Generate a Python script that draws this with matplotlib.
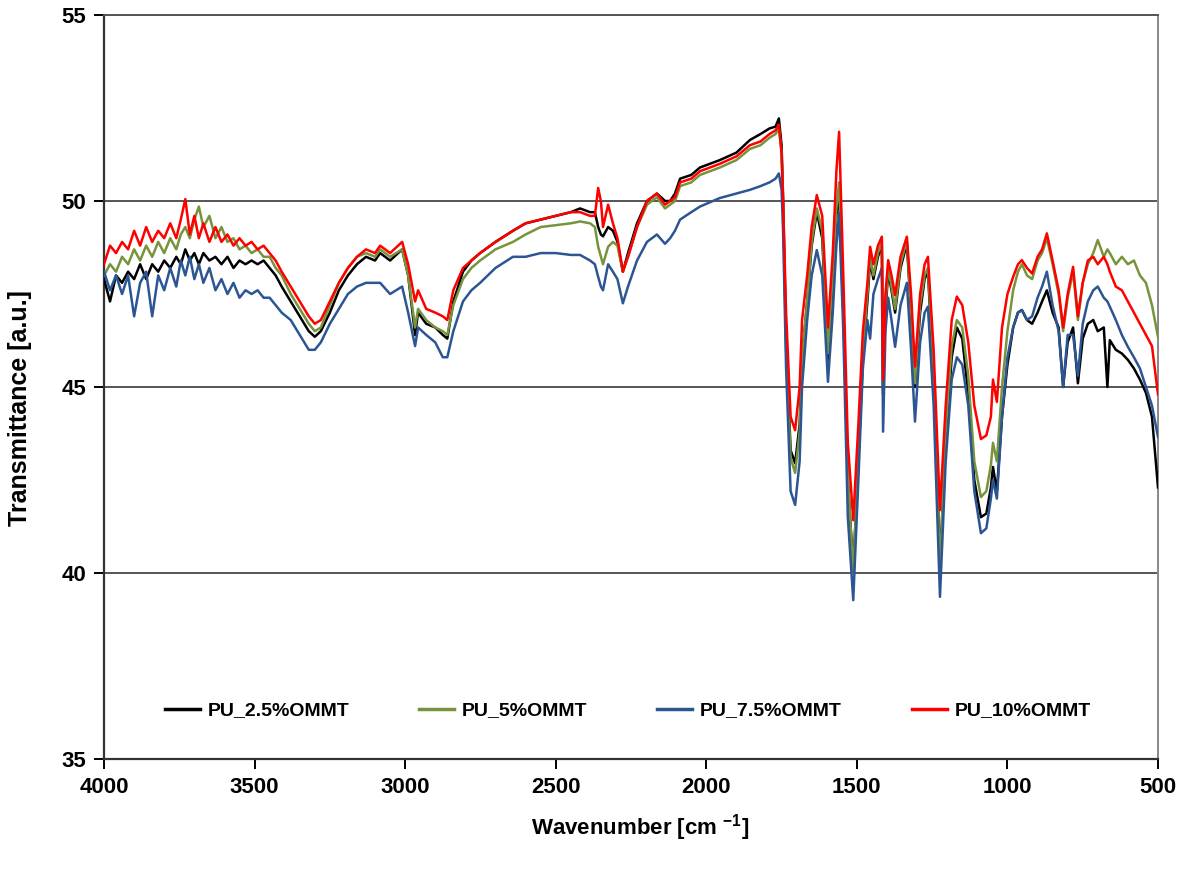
import matplotlib
matplotlib.use("Agg")
import matplotlib.pyplot as plt

plt.rcParams['font.family'] = ['Liberation Sans', 'DejaVu Sans']
plt.rcParams['font.weight'] = 'bold'
plt.rcParams['mathtext.fontset'] = 'custom'
plt.rcParams['mathtext.bf'] = 'Liberation Sans:bold'
plt.rcParams['mathtext.rm'] = 'Liberation Sans:bold'
plt.rcParams['mathtext.default'] = 'bf'

# ---------------- data ----------------
wavenumber = [
    4000, 3980, 3960, 3940, 3920, 3900, 3880, 3860, 3840, 3820, 3800, 3780, 3760, 3745, 3730, 3715,
    3700, 3685, 3670, 3650, 3630, 3610, 3590, 3570, 3550, 3530, 3510, 3490, 3470, 3450, 3430, 3410,
    3380, 3350, 3320, 3300, 3280, 3250, 3220, 3190, 3160, 3130, 3100,
    3083, 3050, 3010, 2990, 2967, 2957, 2930, 2900, 2875, 2860, 2840, 2808, 2780, 2751, 2700, 2642,
    2600, 2550, 2500, 2450, 2419, 2386,
    2370, 2359, 2350, 2343, 2326, 2310, 2295, 2277, 2260, 2230, 2197, 2164, 2137, 2120, 2104, 2087,
    2050, 2021,
    1955, 1900, 1855, 1820, 1790, 1770, 1759, 1750, 1745,
    1735, 1720, 1705, 1690, 1682, 1665, 1650, 1633, 1615, 1596,
    1580, 1568, 1559, 1545, 1530, 1512, 1495, 1480, 1465, 1456,
    1445, 1430, 1417, 1413, 1405, 1396, 1385, 1373, 1355, 1334,
    1320, 1307, 1290, 1275, 1264, 1245, 1224, 1205, 1185, 1168,
    1150, 1130, 1110, 1088, 1070, 1055, 1048, 1035, 1018, 1000,
    981, 965, 952, 935, 918, 900, 885, 869, 850, 830,
    815, 800, 782, 766, 750, 733, 715, 700, 680, 668,
    660, 640, 620, 600, 580, 560, 540, 520, 500,
]

pu_2_5 = [
    47.9, 47.3, 48.0, 47.8, 48.1, 47.9, 48.3, 47.9, 48.3, 48.1, 48.4, 48.2, 48.5, 48.3, 48.7, 48.4,
    48.6, 48.3, 48.6, 48.4, 48.5, 48.3, 48.5, 48.2, 48.4, 48.3, 48.4, 48.3, 48.4, 48.2, 48.0, 47.7,
    47.3, 46.9, 46.5, 46.35, 46.5, 47.0, 47.6, 48.0, 48.3, 48.5, 48.4,
    48.6, 48.4, 48.7, 48.0, 46.4, 47.0, 46.7, 46.6, 46.4, 46.3, 47.3, 48.1, 48.4, 48.6, 48.9, 49.2,
    49.4, 49.5, 49.6, 49.7, 49.8, 49.7,
    49.7, 49.3, 49.1, 49.05, 49.3, 49.2, 48.9, 48.1, 48.6, 49.4, 50.0, 50.2, 50.0, 50.0, 50.2, 50.6,
    50.7, 50.9,
    51.1, 51.3, 51.64, 51.8, 51.95, 52.0, 52.22, 51.5, 50.1,
    46.3, 43.3, 42.95, 44.0, 45.8, 47.3, 48.8, 49.7, 49.0, 45.7,
    47.8, 49.6, 50.2, 47.0, 42.5, 40.1, 43.0, 45.8, 47.3, 48.4,
    47.9, 48.5, 48.8, 44.8, 47.0, 48.1, 47.6, 47.0, 48.2, 48.85,
    47.0, 45.0, 47.0, 47.9, 48.1, 45.2, 40.3, 43.5, 45.8, 46.6,
    46.3, 44.8, 42.5, 41.5, 41.6, 42.3, 42.85, 42.2, 44.2, 45.6,
    46.6, 47.0, 47.07, 46.8, 46.7, 47.0, 47.3, 47.6, 47.0, 46.6,
    45.0, 46.2, 46.6, 45.1, 46.3, 46.7, 46.8, 46.5, 46.6, 45.0,
    46.26, 46.0, 45.9, 45.73, 45.5, 45.2, 44.84, 44.2, 42.3,
]

pu_5 = [
    48.0, 48.3, 48.1, 48.5, 48.3, 48.7, 48.4, 48.8, 48.5, 48.9, 48.6, 49.0, 48.7, 49.1, 49.3, 49.0,
    49.5, 49.85, 49.3, 49.6, 49.0, 49.3, 48.9, 49.0, 48.7, 48.8, 48.6, 48.7, 48.5, 48.5, 48.2, 48.0,
    47.5, 47.1, 46.7, 46.5, 46.6, 47.2, 47.8, 48.2, 48.5, 48.6, 48.5,
    48.7, 48.5, 48.7, 48.0, 46.6, 47.1, 46.8, 46.6, 46.5, 46.4, 47.2, 47.9, 48.2, 48.4, 48.7, 48.9,
    49.1, 49.3, 49.35, 49.4, 49.45, 49.4,
    49.3, 48.77, 48.5, 48.3, 48.77, 48.9, 48.8, 48.1, 48.5, 49.3, 49.9, 50.1, 49.8, 49.9, 50.0, 50.4,
    50.5, 50.7,
    50.9, 51.1, 51.4, 51.5, 51.7, 51.8, 51.95, 51.3, 49.9,
    46.0, 43.1, 42.69, 43.8, 45.8, 47.3, 48.9, 49.8, 49.2, 45.9,
    48.0, 49.8, 50.5, 47.2, 42.6, 40.0, 43.2, 46.0, 47.5, 48.5,
    48.0, 48.6, 48.9, 44.9, 47.2, 48.2, 47.7, 47.1, 48.3, 48.95,
    47.1, 45.1, 47.2, 48.0, 48.2, 45.4, 40.1, 43.8, 46.1, 46.8,
    46.6, 45.3, 43.0, 42.04, 42.2, 42.9, 43.5, 43.0, 45.0, 46.5,
    47.6, 48.1, 48.3, 48.0, 47.9, 48.4, 48.6, 49.0, 48.3, 47.5,
    46.5, 47.4, 48.1, 46.8, 47.8, 48.3, 48.6, 48.95, 48.5, 48.7,
    48.6, 48.3, 48.5, 48.3, 48.4, 48.0, 47.8, 47.2, 46.35,
]

pu_7_5 = [
    48.1, 47.6, 48.0, 47.5, 48.0, 46.9, 47.8, 48.1, 46.9, 48.0, 47.6, 48.2, 47.7, 48.4, 48.0, 48.5,
    47.9, 48.3, 47.8, 48.2, 47.6, 47.9, 47.5, 47.8, 47.4, 47.6, 47.5, 47.6, 47.4, 47.4, 47.2, 47.0,
    46.8, 46.4, 46.0, 46.0, 46.2, 46.7, 47.1, 47.5, 47.7, 47.8, 47.8,
    47.8, 47.5, 47.7, 47.0, 46.1, 46.6, 46.4, 46.2, 45.8, 45.8, 46.5, 47.3, 47.6, 47.8, 48.2, 48.5,
    48.5, 48.6, 48.6, 48.55, 48.55, 48.4,
    48.3, 47.96, 47.7, 47.6, 48.3, 48.1, 47.9, 47.25, 47.7, 48.4, 48.9, 49.1, 48.85, 49.0, 49.2, 49.5,
    49.7, 49.85,
    50.08, 50.2, 50.3, 50.4, 50.5, 50.6, 50.74, 50.3, 49.2,
    45.5, 42.2, 41.83, 43.0, 45.0, 46.8, 48.0, 48.68, 48.0, 45.14,
    47.0, 48.8, 49.68, 46.5, 41.5, 39.27, 42.5, 45.5, 46.8, 46.3,
    47.5, 47.9, 48.2, 43.8, 46.5, 47.4, 46.8, 46.08, 47.2, 47.8,
    46.0, 44.07, 46.2, 47.0, 47.16, 44.5, 39.36, 43.0, 45.2, 45.8,
    45.6, 44.5, 42.2, 41.07, 41.2, 42.0, 42.5, 42.0, 44.2, 45.8,
    46.6, 47.0, 47.07, 46.8, 46.9, 47.4, 47.7, 48.1, 47.2, 46.5,
    45.0, 46.4, 46.4, 45.3, 46.7, 47.3, 47.6, 47.7, 47.4, 47.3,
    47.16, 46.8, 46.4, 46.08, 45.8, 45.5, 45.0, 44.5, 43.66,
]

pu_10 = [
    48.3, 48.8, 48.6, 48.9, 48.7, 49.2, 48.8, 49.3, 48.9, 49.2, 49.0, 49.4, 49.0, 49.5, 50.05, 49.1,
    49.6, 49.0, 49.4, 48.9, 49.3, 48.9, 49.1, 48.8, 49.0, 48.8, 48.9, 48.7, 48.8, 48.6, 48.4, 48.1,
    47.7, 47.3, 46.9, 46.7, 46.8, 47.3, 47.8, 48.2, 48.5, 48.7, 48.6,
    48.8, 48.6, 48.9, 48.3, 47.3, 47.6, 47.1, 47.0, 46.9, 46.8, 47.6, 48.2, 48.4, 48.6, 48.9, 49.2,
    49.4, 49.5, 49.6, 49.7, 49.7, 49.6,
    49.6, 50.35, 50.0, 49.3, 49.9, 49.4, 49.0, 48.1, 48.5, 49.3, 50.0, 50.2, 49.9, 50.0, 50.1, 50.5,
    50.6, 50.8,
    51.0, 51.2, 51.5, 51.6, 51.8, 51.9, 52.05, 51.3, 50.0,
    47.0, 44.2, 43.84, 45.0, 46.8, 48.0, 49.3, 50.16, 49.6, 46.6,
    48.6, 50.8, 51.86, 48.0, 43.5, 41.42, 44.0, 46.5, 47.8, 48.77,
    48.3, 48.8, 49.04, 45.19, 47.5, 48.41, 48.0, 47.47, 48.5, 49.04,
    47.5, 45.55, 47.5, 48.3, 48.5, 46.0, 41.69, 44.5, 46.8, 47.43,
    47.2, 46.2, 44.5, 43.6, 43.7, 44.2, 45.2, 44.6, 46.6, 47.5,
    47.96, 48.3, 48.41, 48.2, 48.05, 48.5, 48.7, 49.13, 48.4, 47.6,
    46.6, 47.5, 48.23, 46.9, 47.8, 48.4, 48.5, 48.3, 48.5, 48.3,
    48.1, 47.7, 47.6, 47.3, 47.0, 46.7, 46.4, 46.1, 44.8,
]

series_labels = ["PU_2.5%OMMT", "PU_5%OMMT", "PU_7.5%OMMT", "PU_10%OMMT"]
series_colors = ["#000000", "#77933C", "#2B5693", "#FF0000"]

x_ticks = [4000, 3500, 3000, 2500, 2000, 1500, 1000, 500]
y_ticks = [35, 40, 45, 50, 55]

for s in (pu_2_5, pu_5, pu_7_5, pu_10):
    assert len(s) == len(wavenumber), (len(s), len(wavenumber))

# ---------------- figure ----------------
fig = plt.figure(figsize=(11.85, 8.71), dpi=100)
ax = fig.add_axes([104 / 1185, 1 - 759 / 871, (1158 - 104) / 1185, (759 - 15) / 871])

for yv in y_ticks[1:]:
    ax.axhline(yv, color="#555555", linewidth=1.4, zorder=1)

for vals, lab, col in zip((pu_2_5, pu_5, pu_7_5, pu_10), series_labels, series_colors):
    ax.plot(wavenumber, vals, color=col, linewidth=1.8, label=lab, zorder=3)

ax.set_xlim(4000, 500)
ax.set_ylim(35, 55)
ax.set_xticks(x_ticks)
ax.set_yticks(y_ticks)
ax.tick_params(axis="both", direction="out", length=7, width=1.4, labelsize=16,
               colors="black", pad=6)
for lbl in ax.get_xticklabels() + ax.get_yticklabels():
    lbl.set_fontweight("bold")

ax.spines["left"].set_color("#333333")
ax.spines["left"].set_linewidth(1.6)
ax.spines["bottom"].set_color("#333333")
ax.spines["bottom"].set_linewidth(1.6)
ax.spines["top"].set_color("#555555")
ax.spines["top"].set_linewidth(1.4)
ax.spines["right"].set_color("#888888")
ax.spines["right"].set_linewidth(1.4)

leg = ax.legend(loc="center", bbox_to_anchor=(0.497, 0.065), ncol=4, frameon=False,
                prop={"family": "Liberation Sans", "weight": "bold", "size": 14},
                handlelength=1.8, columnspacing=3.6, handletextpad=0.4)
for h in leg.get_lines():
    h.set_linewidth(2.5)

fig.text(640 / 1185, 1 - 828 / 871, r"Wavenumber [cm $^{-1}$]", ha="center", va="center",
         fontsize=16, fontweight="bold")
fig.text(20 / 1185, 1 - 408 / 871, "Transmittance [a.u.]", ha="center", va="center",
         rotation=90, fontsize=18, fontweight="bold")

fig.savefig("out.png", dpi=100)
